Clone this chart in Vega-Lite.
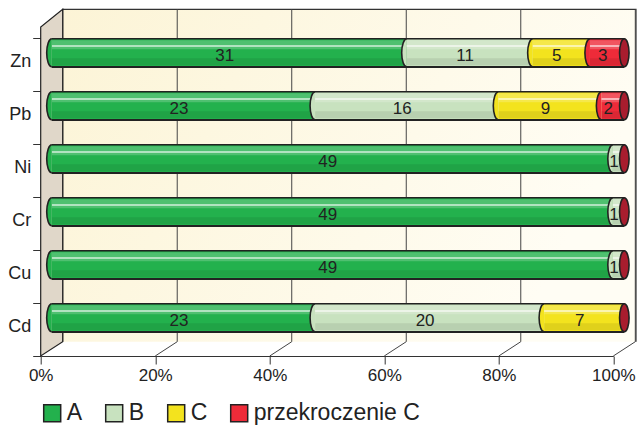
{
  "$schema": "https://vega.github.io/schema/vega-lite/v6.json",
  "width": 572.6,
  "height": 318,
  "autosize": {"type": "none"},
  "padding": {"left": 40.7, "top": 38, "right": 26.7, "bottom": 70},
  "background": "white",
  "config": {
    "font": "Liberation Sans",
    "view": {"stroke": null},
    "legend": {
      "orient": "none",
      "legendX": 0,
      "legendY": 363.5,
      "direction": "horizontal",
      "symbolType": "square",
      "symbolSize": 289,
      "symbolStrokeColor": "#222222",
      "symbolStrokeWidth": 1.5,
      "symbolOpacity": 1,
      "labelFontSize": 23,
      "labelLimit": 400,
      "labelColor": "#222222",
      "labelFont": "Liberation Sans",
      "labelOffset": 3,
      "columnPadding": 20,
      "padding": 0,
      "symbolOffset": 0
    }
  },
  "datasets": {
    "main": [
      {"el": "Zn", "cat": "A", "v": 31},
      {"el": "Zn", "cat": "B", "v": 11},
      {"el": "Zn", "cat": "C", "v": 5},
      {"el": "Zn", "cat": "przekroczenie C", "v": 3},
      {"el": "Pb", "cat": "A", "v": 23},
      {"el": "Pb", "cat": "B", "v": 16},
      {"el": "Pb", "cat": "C", "v": 9},
      {"el": "Pb", "cat": "przekroczenie C", "v": 2},
      {"el": "Ni", "cat": "A", "v": 49},
      {"el": "Ni", "cat": "B", "v": 1},
      {"el": "Cr", "cat": "A", "v": 49},
      {"el": "Cr", "cat": "B", "v": 1},
      {"el": "Cu", "cat": "A", "v": 49},
      {"el": "Cu", "cat": "B", "v": 1},
      {"el": "Cd", "cat": "A", "v": 23},
      {"el": "Cd", "cat": "B", "v": 20},
      {"el": "Cd", "cat": "C", "v": 7}
    ]
  },
  "layer": [
    {
      "data": {"values": [{"wall": "back"}]},
      "mark": {
        "type": "point",
        "shape": "M0.055,0.0305L0.055,-0.8005L1.48825,-0.8005L1.48825,0.0305",
        "size": 640000,
        "filled": true,
        "opacity": 1,
        "fill": {
          "gradient": "linear",
          "x1": 0, "y1": 0, "x2": 1, "y2": 0.3,
          "stops": [
            {"offset": 0, "color": "#fcf4d6"},
            {"offset": 1, "color": "#fffdf4"}
          ]
        },
        "stroke": "#333333",
        "strokeWidth": 1.2
      },
      "encoding": {
        "x": {"datum": 0, "type": "quantitative", "scale": {"domain": [0, 1], "nice": false}},
        "y": {"datum": "Cd", "type": "nominal", "scale": {"domain": ["Zn", "Pb", "Ni", "Cr", "Cu", "Cd"]}}
      }
    },
    {
      "data": {"values": [{"wall": "side"}]},
      "mark": {
        "type": "point",
        "shape": "M0,0.06625L0,-0.75625L0.055,-0.8005L0.055,0.0305Z",
        "size": 640000,
        "filled": true,
        "opacity": 1,
        "fill": "#e0d7c9",
        "stroke": "#222222",
        "strokeWidth": 1.2
      },
      "encoding": {
        "x": {"datum": 0, "type": "quantitative"},
        "y": {"datum": "Cd", "type": "nominal"}
      }
    },
    {
      "data": {"values": [{"p": 0.2}, {"p": 0.4}, {"p": 0.6}, {"p": 0.8}, {"p": 1.0}]},
      "mark": {
        "type": "point",
        "shape": "M0,0.06625L0.055,0.0305L0.055,-0.8005",
        "size": 640000,
        "filled": false,
        "opacity": 1,
        "stroke": "#444444",
        "strokeWidth": 1
      },
      "encoding": {
        "x": {"field": "p", "type": "quantitative"},
        "y": {"datum": "Cd", "type": "nominal"}
      }
    },
    {
      "data": {"name": "main"},
      "mark": {"type": "bar", "size": 28, "xOffset": 11, "x2Offset": 11, "yOffset": -11.7},
      "encoding": {
        "x": {
          "field": "v", "type": "quantitative", "stack": "normalize",
          "scale": {"domain": [0, 1], "nice": false},
          "axis": {
            "title": null, "format": "%", "values": [0, 0.2, 0.4, 0.6, 0.8, 1],
            "labelFontSize": 17, "labelColor": "#222222", "labelFlush": false,
            "tickColor": "#333333", "domainColor": "#333333", "tickSize": 8,
            "labelPadding": 3, "grid": false
          }
        },
        "y": {
          "field": "el", "type": "nominal",
          "scale": {"domain": ["Zn", "Pb", "Ni", "Cr", "Cu", "Cd"], "paddingInner": 0, "paddingOuter": 0},
          "axis": {
            "title": null, "domain": false, "tickBand": "extent", "tickSize": 8,
            "tickColor": "#333333", "labelFontSize": 18, "labelColor": "#222222",
            "labelPadding": 2, "labelOffset": -3.5
          }
        },
        "color": {
          "field": "cat", "type": "nominal",
          "scale": {
            "domain": ["A", "B", "C", "przekroczenie C"],
            "range": ["#23b14d", "#c8e2bf", "#f3e31e", "#ee2b39"]
          },
          "legend": {"title": null}
        },
        "order": {"field": "cat", "sort": "ascending"}
      }
    },
    {
      "data": {"name": "main"},
      "transform": [{"aggregate": [{"op": "count", "as": "n"}], "groupby": ["el"]}],
      "mark": {"type": "bar", "size": 9, "xOffset": 11, "x2Offset": 11, "yOffset": -19.7, "color": "white", "opacity": 0.2},
      "encoding": {
        "x": {"datum": 0, "type": "quantitative"},
        "x2": {"datum": 1},
        "y": {"field": "el", "type": "nominal"}
      }
    },
    {
      "data": {"name": "main"},
      "transform": [{"aggregate": [{"op": "count", "as": "n"}], "groupby": ["el"]}],
      "mark": {"type": "bar", "size": 1.6, "xOffset": 11, "x2Offset": 11, "yOffset": -18.5, "color": "white", "opacity": 0.75},
      "encoding": {
        "x": {"datum": 0, "type": "quantitative"},
        "x2": {"datum": 1},
        "y": {"field": "el", "type": "nominal"}
      }
    },
    {
      "data": {"name": "main"},
      "transform": [{"aggregate": [{"op": "count", "as": "n"}], "groupby": ["el"]}],
      "mark": {"type": "bar", "size": 7, "xOffset": 11, "x2Offset": 11, "yOffset": -2.7, "color": "black", "opacity": 0.08},
      "encoding": {
        "x": {"datum": 0, "type": "quantitative"},
        "x2": {"datum": 1},
        "y": {"field": "el", "type": "nominal"}
      }
    },
    {
      "data": {"name": "main"},
      "mark": {
        "type": "point",
        "shape": "M0,-1A0.36,1 0 0 0 0,1",
        "size": 784,
        "filled": true,
        "opacity": 1,
        "stroke": "#222222",
        "strokeWidth": 1.6,
        "xOffset": 11,
        "yOffset": -11.7
      },
      "encoding": {
        "x": {"field": "v", "type": "quantitative", "stack": "normalize", "bandPosition": 0.0001},
        "y": {"field": "el", "type": "nominal"},
        "color": {"field": "cat", "type": "nominal", "legend": null},
        "order": {"field": "cat", "sort": "ascending"}
      }
    },
    {
      "data": {"name": "main"},
      "transform": [{"aggregate": [{"op": "count", "as": "n"}], "groupby": ["el"]}],
      "mark": {"type": "rule", "xOffset": 11, "x2Offset": 11, "yOffset": -25.7, "color": "#222222", "strokeWidth": 1.6},
      "encoding": {
        "x": {"datum": 0, "type": "quantitative"},
        "x2": {"datum": 1},
        "y": {"field": "el", "type": "nominal"}
      }
    },
    {
      "data": {"name": "main"},
      "transform": [{"aggregate": [{"op": "count", "as": "n"}], "groupby": ["el"]}],
      "mark": {"type": "rule", "xOffset": 11, "x2Offset": 11, "yOffset": 2.5, "color": "#222222", "strokeWidth": 2.2},
      "encoding": {
        "x": {"datum": 0, "type": "quantitative"},
        "x2": {"datum": 1},
        "y": {"field": "el", "type": "nominal"}
      }
    },
    {
      "data": {"name": "main"},
      "transform": [{"aggregate": [{"op": "count", "as": "n"}], "groupby": ["el"]}],
      "mark": {
        "type": "point",
        "shape": "M0,-1A0.34,1 0 0 0 0,1A0.34,1 0 0 0 0,-1Z",
        "size": 784,
        "filled": true,
        "opacity": 1,
        "fill": "#a81d2e",
        "stroke": "#222222",
        "strokeWidth": 1.6,
        "xOffset": 11,
        "yOffset": -11.7
      },
      "encoding": {
        "x": {"datum": 1, "type": "quantitative"},
        "y": {"field": "el", "type": "nominal"}
      }
    },
    {
      "data": {"name": "main"},
      "mark": {"type": "text", "fontSize": 17, "color": "#222222", "xOffset": 6.5, "yOffset": -9, "baseline": "middle", "align": "center"},
      "encoding": {
        "x": {"field": "v", "type": "quantitative", "stack": "normalize", "bandPosition": 0.5},
        "y": {"field": "el", "type": "nominal"},
        "detail": {"field": "cat", "type": "nominal"},
        "order": {"field": "cat", "sort": "ascending"},
        "text": {"field": "v", "type": "quantitative"}
      }
    }
  ]
}
